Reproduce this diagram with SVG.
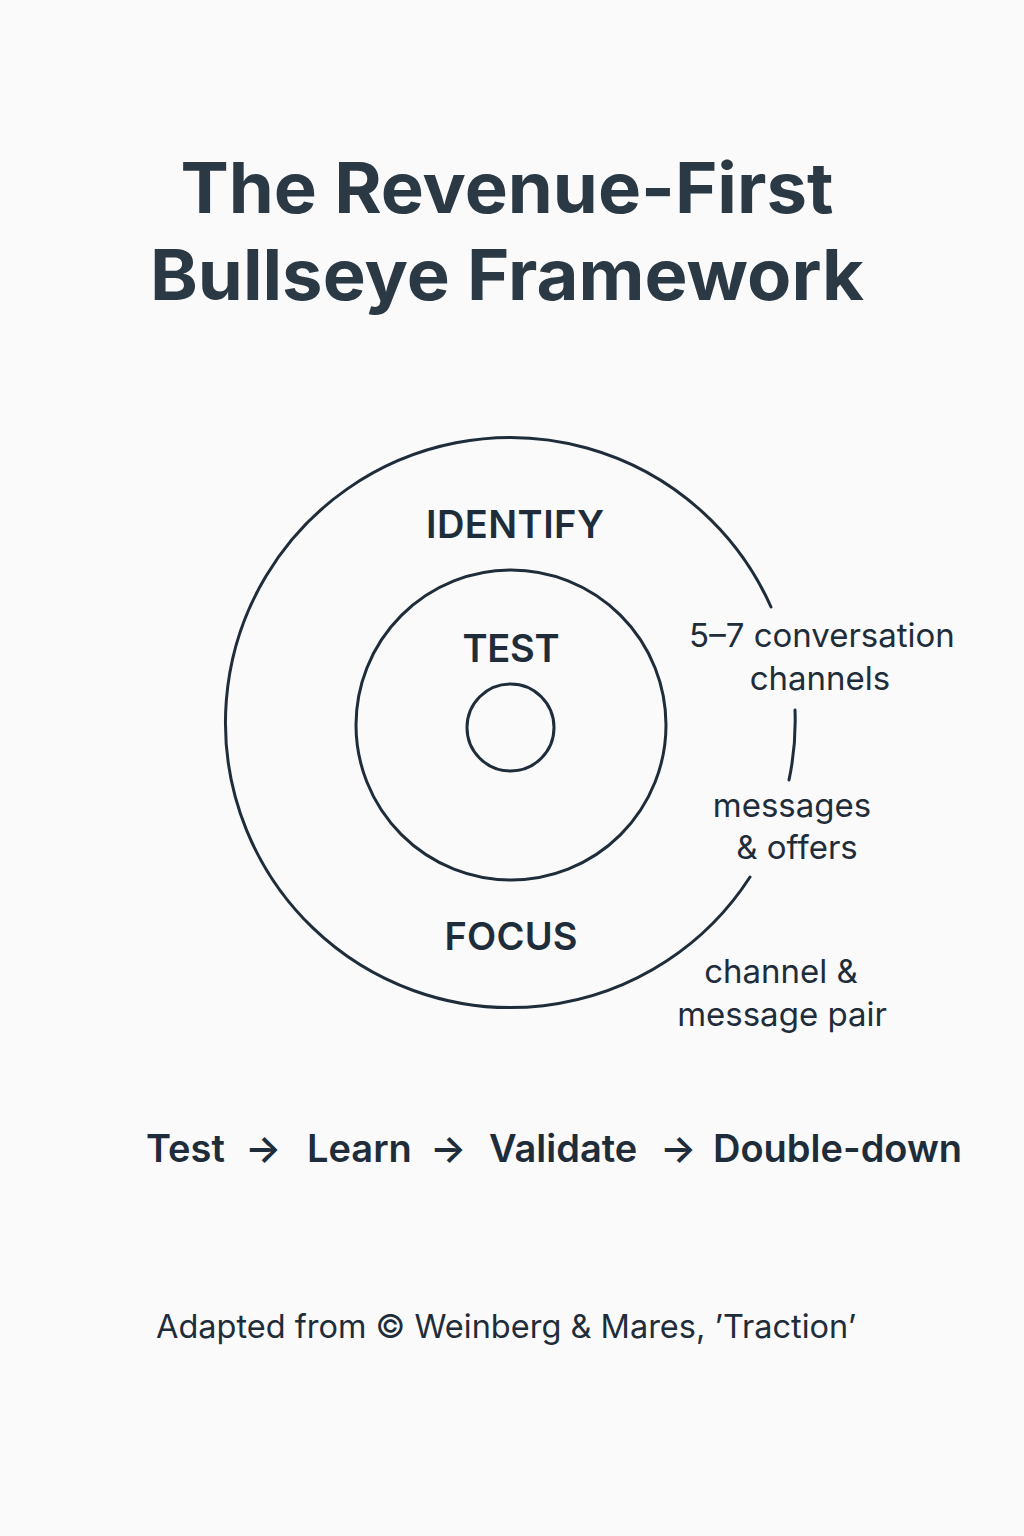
<svg xmlns="http://www.w3.org/2000/svg" width="1024" height="1536" viewBox="0 0 1024 1536">
<style>
.ring{fill:none;stroke:#1f2d3a;stroke-width:3;stroke-linecap:round}
.t{font-family:Inter,"Liberation Sans",sans-serif;fill:#1f2d3a;text-anchor:middle}
.title{font-size:70px;font-weight:700;fill:#2b3945}
.lab{font-size:38px;font-weight:600}
.note{font-size:33px;font-weight:400}
.flow{font-size:38px;font-weight:600;text-anchor:start}
.foot{font-size:32.5px;font-weight:400;text-anchor:start}
</style>
<rect width="1024" height="1536" fill="#fafafa"/>
<g id="title">
<text class="t title" x="507" y="213" textLength="653" lengthAdjust="spacingAndGlyphs">The Revenue-First</text>
<text class="t title" x="507" y="300" textLength="714" lengthAdjust="spacingAndGlyphs">Bullseye Framework</text>
</g>
<g id="connectors">
<path class="ring" d="M771 607 A285 285 0 1 0 750 877"/>
<path class="ring" d="M795 710 A285 285 0 0 1 789 780"/>
</g>
<g id="identify">
<text class="t lab" x="515" y="538" textLength="178">IDENTIFY</text>
</g>
<g id="test">
<circle class="ring" cx="511" cy="725" r="155"/>
<text class="t lab" x="511" y="662" textLength="97">TEST</text>
</g>
<g id="focus-core">
<circle class="ring" cx="510.5" cy="727.5" r="43.5"/>
</g>
<g id="focus">
<text class="t lab" x="511" y="950" textLength="133">FOCUS</text>
</g>
<g id="note-channels">
<text class="t note" x="822" y="647">5–7 conversation</text>
<text class="t note" x="820" y="690">channels</text>
</g>
<g id="note-messages">
<text class="t note" x="792" y="817">messages</text>
<text class="t note" x="797" y="859">&amp; offers</text>
</g>
<g id="note-pair">
<text class="t note" x="781" y="983">channel &amp;</text>
<text class="t note" x="782" y="1026">message pair</text>
</g>
<g id="flow">
<text class="t flow" x="146" y="1162">Test</text>
<text class="t flow" x="245" y="1162">→</text>
<text class="t flow" x="307" y="1162">Learn</text>
<text class="t flow" x="430" y="1162">→</text>
<text class="t flow" x="489" y="1162">Validate</text>
<text class="t flow" x="660" y="1162">→</text>
<text class="t flow" x="713" y="1162">Double-down</text>
</g>
<g id="footer">
<text class="t foot" x="156" y="1338">Adapted from © Weinberg &amp; Mares, ’Traction’</text>
</g>
</svg>
